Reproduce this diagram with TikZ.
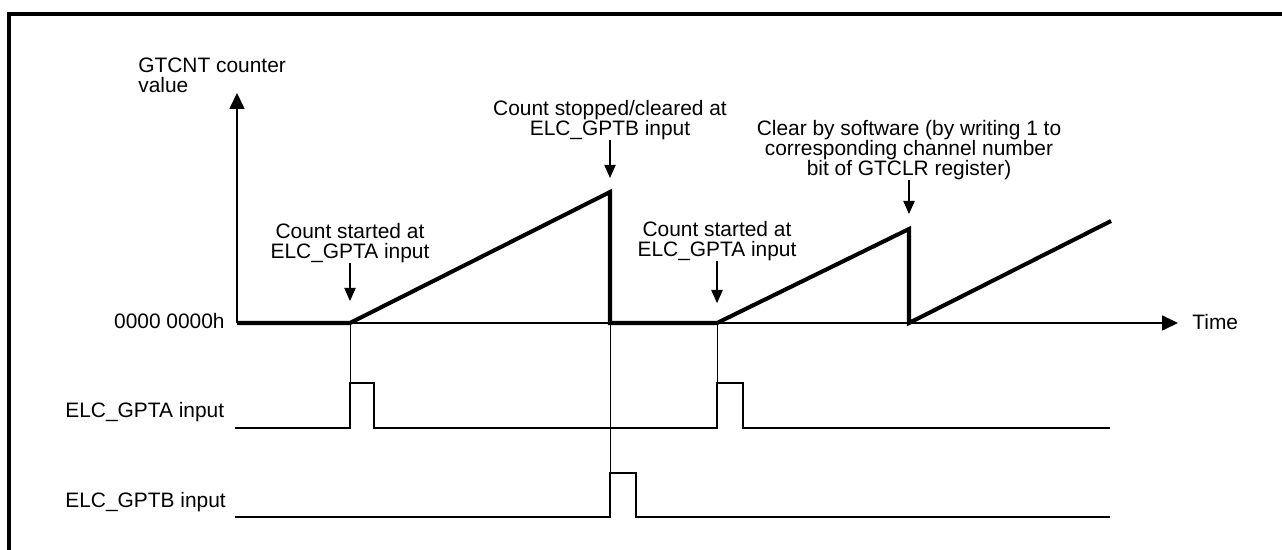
\documentclass[tikz,border=0pt]{standalone}
\usepackage{fontspec}
\setmainfont{Liberation Sans}
\usepackage{tikz}
\usetikzlibrary{arrows.meta, positioning, calc}

\tikzset{
    lbl/.style={font=\fontsize{11.9}{11.4}\selectfont, align=center, inner sep=0pt},
    axisline/.style={line width=0.7pt, -{Triangle[length=9pt, width=8.5pt]}},
    countline/.style={line width=2.3pt, line join=miter},
    pointer/.style={line width=0.6pt, -{Triangle[length=7.5pt, width=6.5pt]}},
    pulse/.style={line width=1.1pt},
    guide/.style={line width=0.35pt}
}

\begin{document}
\begin{tikzpicture}[x=0.02cm, y=-0.02cm]
\useasboundingbox (0,0) rectangle (1282,550);

% Frame
\draw[line width=2pt] (9,560) -- (9,14) -- (1290,14);

% Axes
\coordinate (origin) at (237,323);
\coordinate (ytop) at (237,93);
\coordinate (xend) at (1178,323);
\draw[axisline] (origin) -- (ytop);
\draw[axisline] (origin) -- (xend);
\node[lbl, align=left, anchor=south west] (yname) at (138,93) {GTCNT counter\\value};
\node[lbl, anchor=east] (zero) at (225,321) {0000 0000h};
\node[lbl, anchor=west] (tname) at (1192,322) {Time};

% Counter value
\coordinate (t1) at (350,323);
\coordinate (p1) at (610,192);
\coordinate (t2) at (610,323);
\coordinate (t3) at (717,323);
\coordinate (p2) at (909,229);
\coordinate (t4) at (909,323);
\coordinate (pend) at (1111,221);
\draw[countline] (origin) -- (t1) -- (p1) -- (t2) -- (t3) -- (p2) -- (t4) -- (pend);

% Event labels
\node[lbl, anchor=south] (cntA1) at (350,263) {Count started at\\ELC\_GPTA input};
\node[lbl, anchor=south] (stopB) at (610,140) {Count stopped/cleared at\\ELC\_GPTB input};
\node[lbl, anchor=south] (cntA2) at (717,261) {Count started at\\ELC\_GPTA input};
\node[lbl, anchor=south] (clrSW) at (909,180) {Clear by software (by writing 1 to\\corresponding channel number\\bit of GTCLR register)};
\draw[pointer, shorten >=12.5pt] (cntA1) -- (t1);
\draw[pointer, shorten >=8pt] (stopB) -- (p1);
\draw[pointer, shorten >=11.3pt] (cntA2) -- (t3);
\draw[pointer, shorten >=8.5pt] (clrSW) -- (p2);

% Input signals
\node[lbl, anchor=west] (gpta) at (65,412) {ELC\_GPTA input};
\node[lbl, anchor=west] (gptb) at (65,502) {ELC\_GPTB input};
\coordinate (a1top) at (350,383);
\coordinate (a2top) at (717,383);
\coordinate (b1top) at (610,473);
\draw[pulse] (235,428) -- (350,428) -- (a1top) -- (374,383) -- (374,428)
    -- (717,428) -- (a2top) -- (743,383) -- (743,428) -- (1110,428);
\draw[pulse] (235,517) -- (610,517) -- (b1top) -- (636,473) -- (636,517) -- (1110,517);

% Guides
\draw[guide] (t1) -- (a1top);
\draw[guide] (t2) -- (b1top);
\draw[guide] (t3) -- (a2top);
\end{tikzpicture}
\end{document}
